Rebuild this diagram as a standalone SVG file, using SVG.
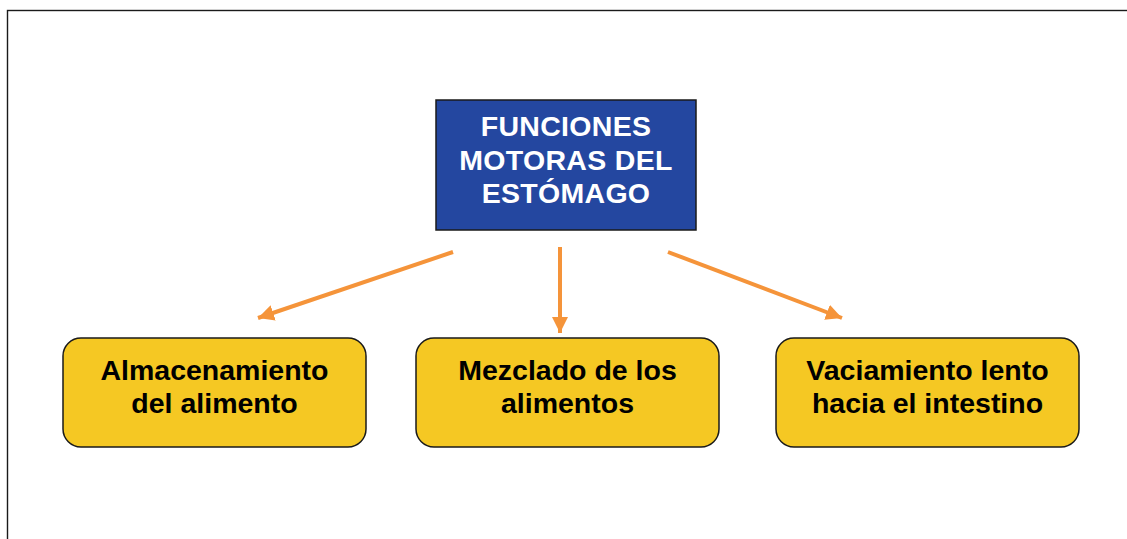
<svg xmlns="http://www.w3.org/2000/svg" width="1127" height="539" viewBox="0 0 1127 539">
<defs>
<style>
.frame{fill:none;stroke:#1a1a1a;stroke-width:1.4}
.top{fill:#2447A0;stroke:#1a1a1a;stroke-width:1.5}
.leaf{fill:#F5C823;stroke:#1a1a1a;stroke-width:1.5}
.tw{font-family:"Liberation Sans",Arial,sans-serif;font-weight:bold;font-size:28.5px;letter-spacing:0.3px;fill:#ffffff;text-anchor:middle}
.tb{font-family:"Liberation Sans",Arial,sans-serif;font-weight:bold;font-size:28.5px;fill:#000000;text-anchor:middle}
.conn{stroke:#F5943A;stroke-width:4;fill:none}
</style>
<marker id="ah" viewBox="0 0 10 10" refX="10" refY="5" markerWidth="4" markerHeight="4" markerUnits="strokeWidth" orient="auto">
<path d="M0,0 L10,5 L0,10 Z" fill="#F5943A"/>
</marker>
</defs>
<rect width="1127" height="539" fill="#ffffff"/>
<rect class="frame" x="7.5" y="10.5" width="1130" height="540"/>
<g id="connectors">
<line class="conn" x1="453" y1="252" x2="258" y2="318" marker-end="url(#ah)"/>
<line class="conn" x1="560" y1="247" x2="560" y2="333" marker-end="url(#ah)"/>
<line class="conn" x1="668" y1="252" x2="842" y2="318" marker-end="url(#ah)"/>
</g>
<g id="node-funciones">
<rect class="top" x="436" y="100" width="260" height="130"/>
<text class="tw" x="566" y="136">FUNCIONES</text>
<text class="tw" x="566" y="170">MOTORAS DEL</text>
<text class="tw" x="566" y="203">ESTÓMAGO</text>
</g>
<g id="node-almacenamiento">
<rect class="leaf" x="63" y="338" width="303" height="109" rx="18"/>
<text class="tb" x="214.5" y="380">Almacenamiento</text>
<text class="tb" x="214.5" y="413">del alimento</text>
</g>
<g id="node-mezclado">
<rect class="leaf" x="416" y="338" width="303" height="109" rx="18"/>
<text class="tb" x="567.5" y="380">Mezclado de los</text>
<text class="tb" x="567.5" y="413">alimentos</text>
</g>
<g id="node-vaciamiento">
<rect class="leaf" x="776" y="338" width="303" height="109" rx="18"/>
<text class="tb" x="927.5" y="380">Vaciamiento lento</text>
<text class="tb" x="927.5" y="413">hacia el intestino</text>
</g>
</svg>
